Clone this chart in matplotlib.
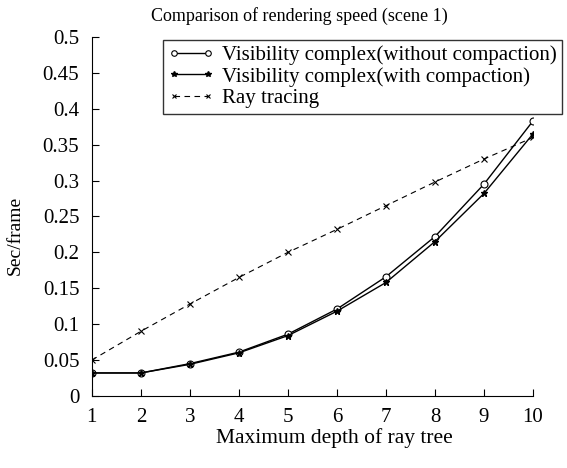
import matplotlib
matplotlib.use('Agg')
import matplotlib.pyplot as plt

depth = [1, 2, 3, 4, 5, 6, 7, 8, 9, 10]
vc_without = [0.032, 0.032, 0.045, 0.061, 0.086, 0.121, 0.166, 0.222, 0.295, 0.383]
vc_with = [0.032, 0.032, 0.044, 0.060, 0.084, 0.118, 0.158, 0.215, 0.282, 0.365]
ray_tracing = [0.050, 0.090, 0.128, 0.165, 0.200, 0.232, 0.265, 0.298, 0.330, 0.360]
yticks = [0, 0.05, 0.1, 0.15, 0.2, 0.25, 0.3, 0.35, 0.4, 0.45, 0.5]

plt.rcParams['font.family'] = ['Liberation Serif', 'DejaVu Serif']

fig = plt.figure(figsize=(5.67, 4.68), dpi=100)
ax = fig.add_axes([0.162, 0.154, 0.778, 0.767])

ax.plot(depth, vc_without, color='black', lw=1, marker='o', ms=5,
        mfc='white', mec='black', mew=0.8,
        label='Visibility complex(without compaction)')
ax.plot(depth, vc_with, color='black', lw=1, marker='*', ms=5,
        mfc='black', mec='black',
        label='Visibility complex(with compaction)')
ax.plot(depth, ray_tracing, color='black', lw=0.8, ls=(0, (5, 4)),
        marker='x', ms=4, mew=0.8, label='Ray tracing')

ax.set_xlim(1, 10)
ax.set_ylim(0, 0.5)
ax.set_xticks(depth)
ax.set_yticks(yticks)
ax.set_yticklabels([f'{v:g}' for v in yticks])
ax.tick_params(direction='in', length=5, labelsize=15, width=0.8, pad=9)
ax.spines['top'].set_visible(False)
ax.spines['right'].set_visible(False)

ax.set_xlabel('Maximum depth of ray tree', fontsize=15.5)
ax.xaxis.set_label_coords(0.549, -0.09)
ax.set_ylabel('Sec/frame', fontsize=14)
ax.yaxis.set_label_coords(-0.154, 0.446)
ax.set_title('Comparison of rendering speed (scene 1)', fontsize=13,
             x=0.47, y=1.045, pad=0)

leg = ax.legend(loc='upper left', bbox_to_anchor=(163 / 567, 1 - 40 / 468),
                bbox_transform=fig.transFigure, fontsize=15, numpoints=2,
                frameon=True, fancybox=False, edgecolor='black',
                borderpad=0.25, labelspacing=0.1, handlelength=2.2,
                handletextpad=0.4, borderaxespad=0, markerscale=0.8)
leg.get_frame().set_linewidth(1)

fig.savefig('out.png', dpi=100)
